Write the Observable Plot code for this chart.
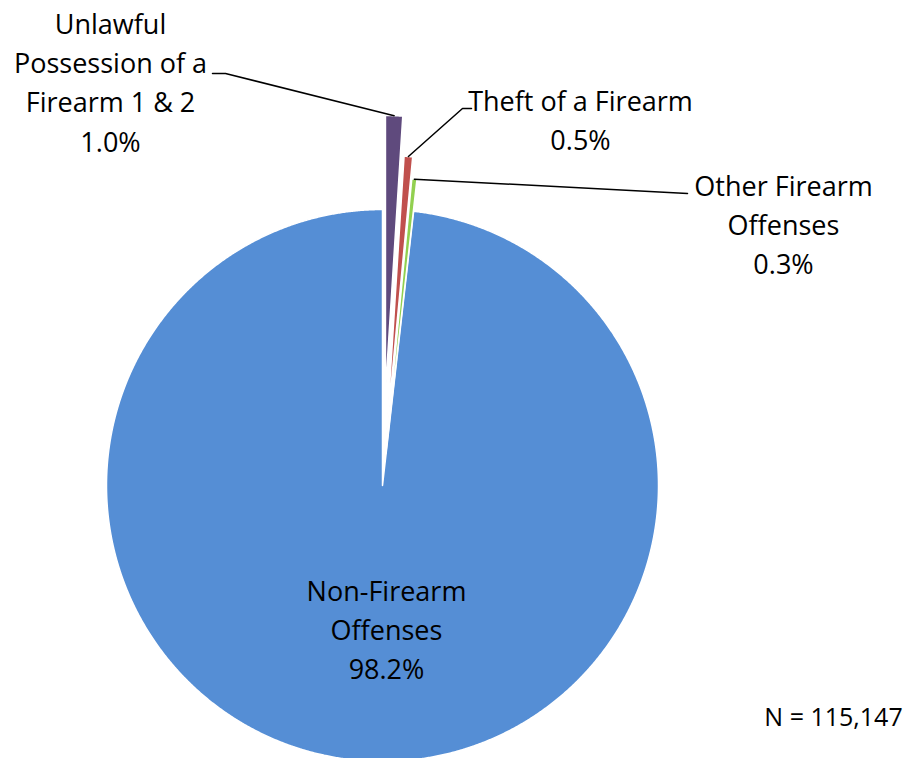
<!DOCTYPE html>
<html>
<head>
<meta charset="utf-8">
<script src="https://cdn.jsdelivr.net/npm/d3@7"></script>
<script src="https://cdn.jsdelivr.net/npm/@observablehq/plot@0.6"></script>
<style>
  html, body { margin: 0; padding: 0; background: #fff; overflow: hidden; }
  #chart svg { display: block; overflow: hidden; }
</style>
</head>
<body>
<div id="chart"></div>
<script>
// ---- data ----
const categories = ["Unlawful Possession of a Firearm 1 & 2", "Theft of a Firearm", "Other Firearm Offenses", "Non-Firearm Offenses"];
const labelNames = ["Unlawful\nPossession of a\nFirearm 1 & 2", "Theft of a Firearm", "Other Firearm\nOffenses", "Non-Firearm\nOffenses"];
const shares = [1.0, 0.5, 0.3, 98.2];
const colors = ["#5f4a7d", "#c0504d", "#92d050", "#558ed5"];
const noteText = "N = 115,147";

// ---- layout (pixels) ----
const W = 909, H = 758;
const CX = 382, CY = 485, R = 276;
const explodePx = [94, 54, 32, 0];
const labelPos = [[110, 80], [580, 118], [783, 222], [386, 627]];
const leaderBend = [[[212, 73], [225, 73]], [[471, 108], [462, 108]], [[687, 193]], null];
const notePos = [833, 717];
const toX = px => (px - CX) / R;
const toY = py => (CY - py) / R;

// ---- pie geometry from data ----
const arcs = d3.pie().sort(null).value(d => d.v)(shares.map((v, i) => ({v, i})));
const slices = arcs.map(a => {
  const i = a.data.i;
  const mid = (a.startAngle + a.endAngle) / 2;
  const e = explodePx[i] / R;
  const ox = e * Math.sin(mid), oy = e * Math.cos(mid);
  const pts = [{x: ox, y: oy}];
  const n = Math.max(2, Math.ceil((a.endAngle - a.startAngle) / (Math.PI / 720)));
  for (let k = 0; k <= n; k++) {
    const t = a.startAngle + (a.endAngle - a.startAngle) * k / n;
    pts.push({x: ox + Math.sin(t), y: oy + Math.cos(t)});
  }
  const tip = {x: ox + Math.sin(mid), y: oy + Math.cos(mid)};
  return {i, pts, tip};
});

const order = [3, 0, 1, 2];
const sliceMarks = order.map(i => {
  const s = slices.find(d => d.i === i);
  return Plot.line(s.pts, {x: "x", y: "y", curve: "linear-closed", fill: colors[i], stroke: "white", strokeWidth: 1.5});
});

const leaderMarks = [];
slices.forEach(s => {
  const bend = leaderBend[s.i];
  if (!bend) return;
  const pts = [s.tip, ...bend.slice().reverse().map(([px, py]) => ({x: toX(px), y: toY(py)}))];
  leaderMarks.push(Plot.line(pts, {x: "x", y: "y", stroke: "black", strokeWidth: 1.5}));
});

const labels = categories.map((c, i) => ({
  text: labelNames[i] + "\n" + shares[i].toFixed(1) + "%",
  x: toX(labelPos[i][0]),
  y: toY(labelPos[i][1])
}));

const chart = Plot.plot({
  width: W,
  height: H,
  margin: 0,
  x: {domain: [toX(0), toX(W)], range: [0, W], axis: null},
  y: {domain: [toY(H), toY(0)], range: [H, 0], axis: null},
  style: {fontFamily: "'Open Sans', sans-serif", background: "white"},
  marks: [
    ...sliceMarks,
    ...leaderMarks,
    Plot.text(labels, {x: "x", y: "y", text: "text", fontSize: 27, lineHeight: 1.445, fill: "black", textAnchor: "middle"}),
    Plot.text([noteText], {x: toX(notePos[0]), y: toY(notePos[1]), text: d => d, fontSize: 25, fill: "black"})
  ]
});
document.getElementById("chart").appendChild(chart);
</script>
</body>
</html>
